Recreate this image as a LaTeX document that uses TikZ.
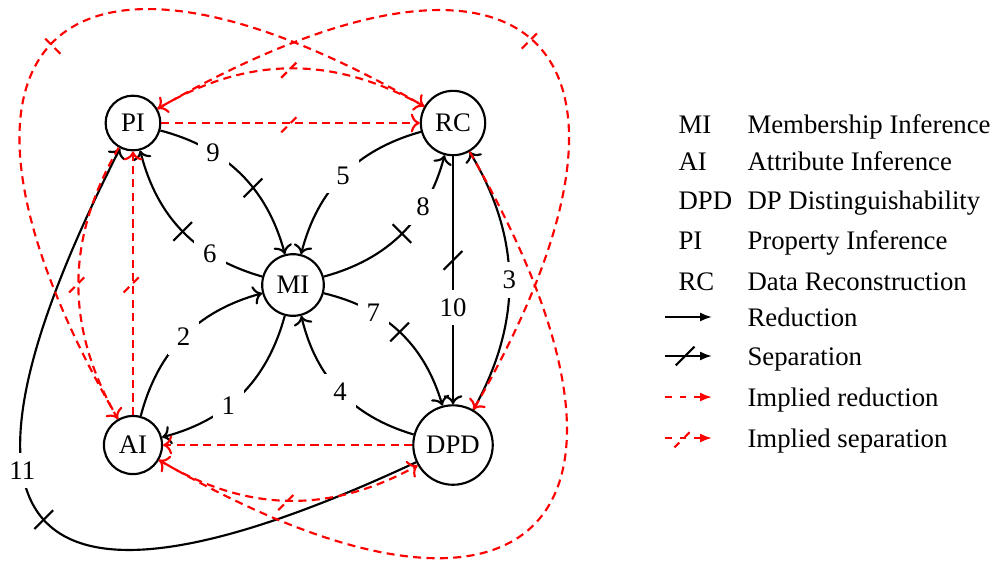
\documentclass[tikz,border=0pt]{standalone}
\usepackage{fontspec}
\setmainfont{Liberation Serif}
\usetikzlibrary{positioning,arrows.meta,decorations.markings}

\tikzset{
    sep/.style 2 args={postaction={decorate, decoration={markings,
        mark=at position #1 with {\pgftransformresetnontranslations
            \draw[-, #2] (-3.5pt,-3.5pt) -- (3.5pt,3.5pt);}}}}
}

\begin{document}
\begin{tikzpicture}[
    on grid,
    attack/.style={circle, draw, thick},
    arrow/.style={->, thick},
    implied/.style={->, thick, red, dash pattern=on 3pt off 2pt},
    lbl/.style={fill=white},
    key/.style={anchor=west, inner xsep=0pt, text height=1.5ex, text depth=0pt},
    legarrow/.style={-{Latex[length=4.5pt, width=3.4pt]}, thick}
]
    \useasboundingbox (-3.847,-3.650) rectangle (9.217,3.742);

    % Attacks
    \node[attack] (MI) {MI};
    \node[attack, above left=2.127cm and 2.101cm of MI] (PI) {PI};
    \node[attack, above right=2.127cm and 2.101cm of MI] (RC) {RC};
    \node[attack, below left=2.101cm and 2.101cm of MI] (AI) {AI};
    \node[attack, below right=2.101cm and 2.101cm of MI] (DPD) {DPD};

    % Reductions and separations
    \draw[arrow] (MI) to[bend left] node[lbl, pos=.6] {1} (AI);
    \draw[arrow] (AI) to[bend left] node[lbl] {2} (MI);
    \draw[arrow] (DPD) to[bend right] node[lbl] {3} (RC);
    \draw[arrow] (DPD) to[bend left] node[lbl] {4} (MI);
    \draw[arrow] (RC) to[bend right] node[lbl] {5} (MI);
    \draw[arrow, sep={.5}{}] (MI) to[bend left] node[lbl, pos=.3] {6} (PI);
    \draw[arrow, sep={.5}{}] (MI) to[bend left] node[lbl, pos=.3] {7} (DPD);
    \draw[arrow, sep={.5}{rotate=90}] (MI) to[bend right] node[lbl, pos=.7] {8} (RC);
    \draw[arrow, sep={.6}{}] (PI) to[bend left] node[lbl, pos=.3] {9} (MI);
    \draw[arrow, sep={.42}{}] (RC) -- node[lbl, pos=.61] {10} (DPD);
    \draw[arrow, sep={.5}{}] (DPD) to[out=205, in=243, looseness=2.6] node[lbl, pos=.62] {11} (PI);

    % Implied reductions and separations
    \draw[implied, sep={.5}{}] (PI) -- (RC);
    \draw[implied, sep={.5}{}] (AI) -- (PI);
    \draw[implied] (DPD) -- (AI);
    \draw[implied, sep={.5}{}] (RC) to[bend right] (PI);
    \draw[implied, sep={.5}{}] (PI) to[bend right] (AI);
    \draw[implied, sep={.5}{}] (AI) to[bend right] (DPD);
    \draw[implied, sep={.5}{}] (PI) to[out=30, in=60, looseness=2.5] (DPD);
    \draw[implied, sep={.5}{rotate=90}] (AI) to[out=120, in=150, looseness=2.5] (RC);
    \draw[implied] (RC) to[out=-60, in=-30, looseness=2.5] (AI);

    % Legend
    \node[key] (kMI) at (5.055,2.114) {MI};
    \node[key] (tMI) at (5.961,2.114) {Membership Inference};
    \node[key] (kAI) at (5.055,1.628) {AI};
    \node[key] (tAI) at (5.961,1.628) {Attribute Inference};
    \node[key] (kDPD) at (5.055,1.116) {DPD};
    \node[key] (tDPD) at (5.961,1.116) {DP Distinguishability};
    \node[key] (kPI) at (5.055,0.591) {PI};
    \node[key] (tPI) at (5.961,0.591) {Property Inference};
    \node[key] (kRC) at (5.055,0.053) {RC};
    \node[key] (tRC) at (5.961,0.053) {Data Reconstruction};

    \coordinate (red1) at (4.884,-0.420);
    \coordinate (red2) at (5.502,-0.420);
    \draw[legarrow] (red1) -- (red2);
    \node[key] (tred) at (5.961,-0.420) {Reduction};

    \coordinate (sep1) at (4.884,-0.932);
    \coordinate (sep2) at (5.502,-0.932);
    \draw[legarrow, sep={.43}{}] (sep1) -- (sep2);
    \node[key] (tsep) at (5.961,-0.932) {Separation};

    \coordinate (ired1) at (4.884,-1.471);
    \coordinate (ired2) at (5.502,-1.471);
    \draw[legarrow, red, dash pattern=on 2.5pt off 3pt] (ired1) -- (ired2);
    \node[key] (tired) at (5.961,-1.471) {Implied reduction};

    \coordinate (isep1) at (4.884,-2.009);
    \coordinate (isep2) at (5.502,-2.009);
    \draw[legarrow, red, dash pattern=on 2.5pt off 3pt, sep={.4}{}] (isep1) -- (isep2);
    \node[key] (tisep) at (5.961,-2.009) {Implied separation};

\end{tikzpicture}
\end{document}
